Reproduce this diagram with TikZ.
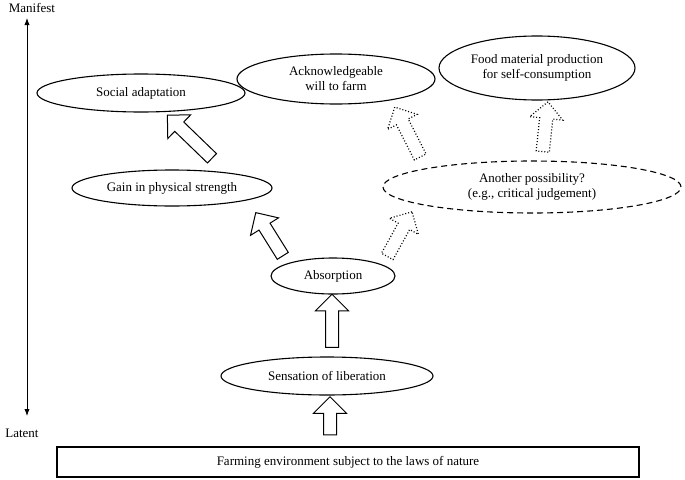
\documentclass[tikz,border=0pt]{standalone}
\usepackage{fontspec}
\setmainfont{Liberation Serif}
\usetikzlibrary{shapes.geometric,shapes.arrows,arrows.meta}
\begin{document}
\begin{tikzpicture}[x=1pt,y=-1pt,
  every node/.style={font=\fontsize{13}{15}\selectfont},
  oval/.style={ellipse,draw,line width=1.1pt,inner sep=0pt,align=center},
  barrow/.style={single arrow,draw,line width=1pt,inner sep=6pt,minimum height=#1,
    single arrow head extend=10pt,anchor=center},
  darrow/.style={barrow=#1,dotted,line width=1.2pt}]
\useasboundingbox (0,0) rectangle (685,479);
% axis
\coordinate (top) at (27,18);
\coordinate (bot) at (27,416);
\draw[thick,{Latex[length=7pt]}-{Latex[length=7pt]}] (top) -- (bot);
\node (manifest) at (32,8) {Manifest};
\node (latent) at (22,433) {Latent};
% base
\node[draw,line width=1.1pt,minimum width=582,minimum height=30,inner sep=0pt] (env) at (348,462)
  {Farming environment subject to the laws of nature};
% ovals
\node[oval,minimum width=212,minimum height=38] (sens) at (327,376) {Sensation of liberation};
\node[oval,minimum width=124,minimum height=36] (abs) at (333,276) {Absorption};
\node[oval,minimum width=200,minimum height=36] (gain) at (172,188) {Gain in physical strength};
\node[oval,dashed,dash pattern=on 6pt off 4pt,minimum width=298,minimum height=52] (other) at (532,187)
  {Another possibility?\\(e.g., critical judgement)};
\node[oval,minimum width=208,minimum height=38] (social) at (141,93) {Social adaptation};
\node[oval,minimum width=198,minimum height=50] (ack) at (336,79) {Acknowledgeable\\will to farm};
\node[oval,minimum width=196,minimum height=64] (food) at (537,68)
  {Food material production\\for self-consumption};
% block arrows
\node[barrow=38,rotate=90] (a1) at (330,419) {};
\node[barrow=53,rotate=90] (a2) at (332,324) {};
\node[barrow=51,rotate=122] (a3) at (271,237) {};
\node[darrow=51,rotate=61] (a4) at (398,237) {};
\node[barrow=62,rotate=136] (a5) at (192,139) {};
\node[darrow=56,rotate=117] (a6) at (409,135) {};
\node[darrow=50,rotate=84] (a7) at (545,130) {};
\end{tikzpicture}
\end{document}
